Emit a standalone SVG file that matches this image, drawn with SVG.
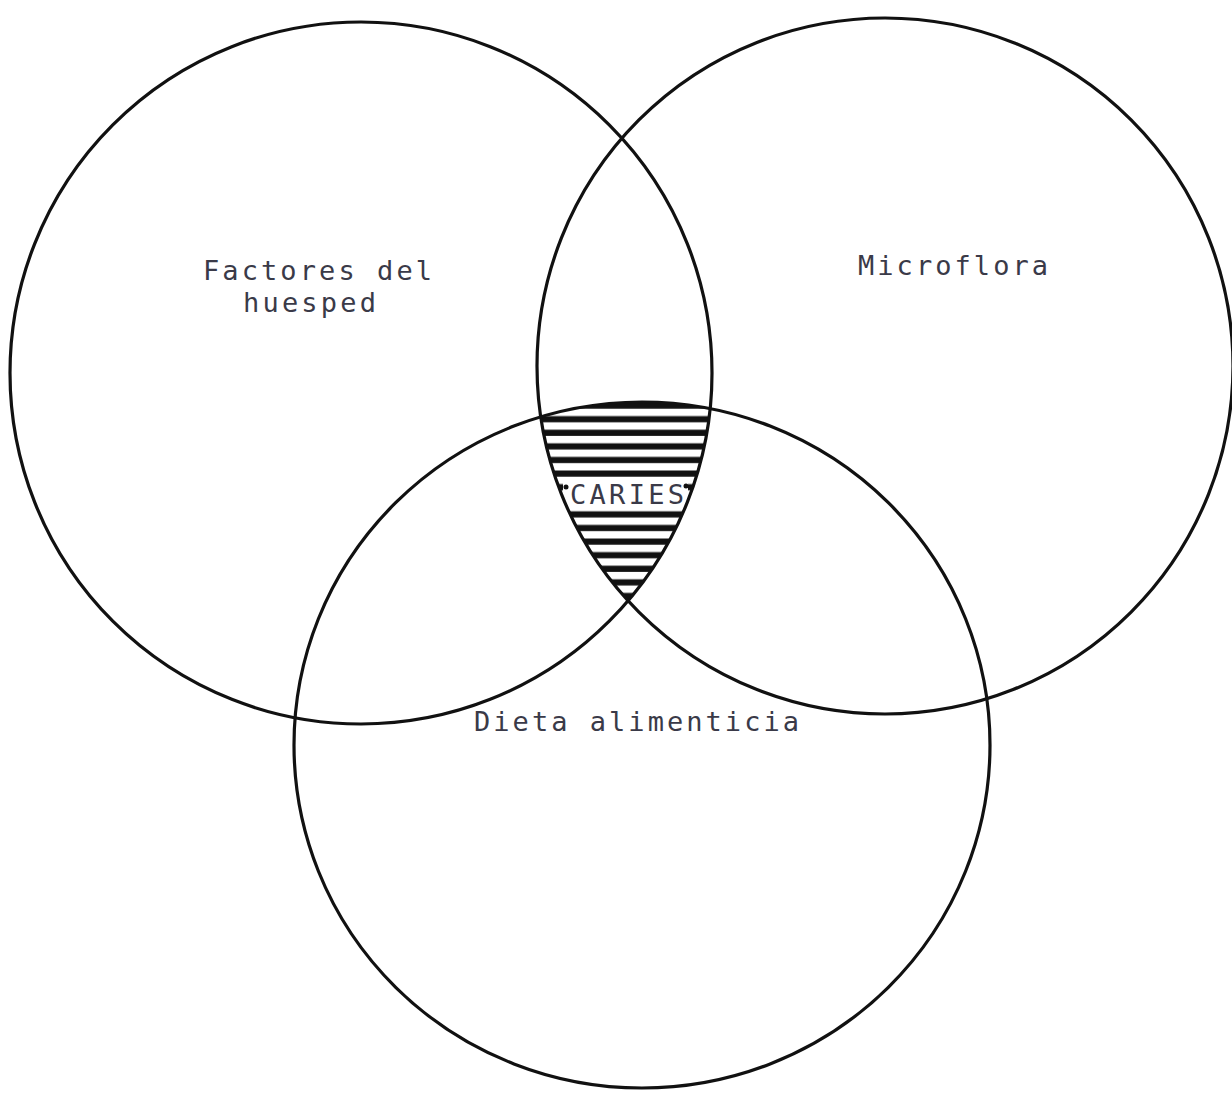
<svg xmlns="http://www.w3.org/2000/svg" width="1232" height="1095" viewBox="0 0 1232 1095">
<style>
.c{fill:none;stroke:#111;stroke-width:3.2}
.t{font-family:"DejaVu Sans Mono","Liberation Mono",monospace;font-size:27px;fill:#3a3a48}
</style>
<defs>
<pattern id="hatch" patternUnits="userSpaceOnUse" x="0" y="402" width="20" height="13.6">
<rect x="0" y="0.5" width="20" height="6.2" fill="#111"/>
</pattern>
<clipPath id="cA"><circle cx="361" cy="373" r="351"/></clipPath>
<clipPath id="cB"><circle cx="885" cy="366" r="348"/></clipPath>
<clipPath id="cC"><ellipse cx="642" cy="745" rx="348" ry="343"/></clipPath>
</defs>
<rect width="1232" height="1095" fill="#fff"/>
<g id="caries">
<g clip-path="url(#cA)"><g clip-path="url(#cB)"><g clip-path="url(#cC)">
<rect x="500" y="390" width="250" height="230" fill="url(#hatch)"/>
</g></g></g>
<rect x="563" y="480" width="125" height="28" fill="#fff"/>
<circle cx="566" cy="487" r="2.5" fill="#111"/>
<circle cx="686" cy="486" r="2.5" fill="#111"/>
<text class="t" x="570" y="504" textLength="114" lengthAdjust="spacing">CARIES</text>
</g>
<g id="huesped">
<circle class="c" cx="361" cy="373" r="351"/>
<text class="t" x="203" y="280" textLength="229" lengthAdjust="spacing">Factores del</text>
<text class="t" x="243" y="312" textLength="133" lengthAdjust="spacing">huesped</text>
</g>
<g id="microflora">
<circle class="c" cx="885" cy="366" r="348"/>
<text class="t" x="858" y="275" textLength="190" lengthAdjust="spacing">Microflora</text>
</g>
<g id="dieta">
<ellipse class="c" cx="642" cy="745" rx="348" ry="343"/>
<text class="t" x="474" y="731" textLength="325" lengthAdjust="spacing">Dieta alimenticia</text>
</g>
<g id="connectors"/>
</svg>
